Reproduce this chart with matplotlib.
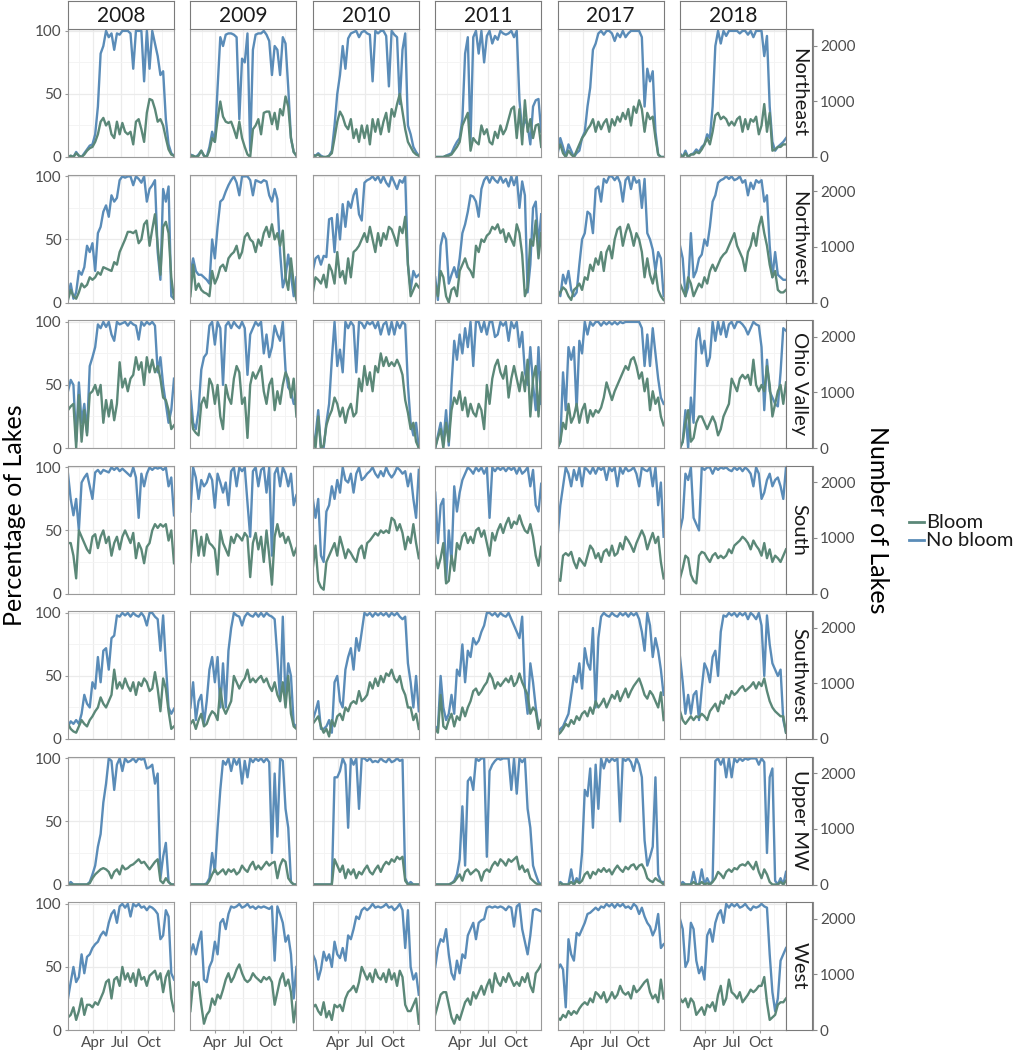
import matplotlib
matplotlib.use("Agg")
import matplotlib.pyplot as plt
from matplotlib.lines import Line2D

# sample dates (day of year), 40 per season
days = list(range(8, 360, 9))
years = [2008, 2009, 2010, 2011, 2017, 2018]
regions = ["Northeast", "Northwest", "Ohio Valley", "South", "Southwest", "Upper MW", "West"]
month_ticks = [91, 182, 274]
month_labels = ["Apr", "Jul", "Oct"]
minor_month_ticks = [46, 136, 228, 320]

# percentage of lakes, one list per year (2008, 2009, 2010, 2011, 2017, 2018)
northeast_nobloom = [
    [0,1,0,4,1,0,3,6,9,10, 18,40,82,88,100,95,98,85,98,97, 100,100,100,98,70,100,100,100,60,100, 70,100,90,80,65,68,30,10,3,1],
    [2,1,0,2,5,1,0,8,20,12, 55,95,88,97,98,98,97,95,30,78, 75,98,5,85,97,98,98,100,97,92, 65,88,85,65,95,90,55,15,4,1],
    [2,1,3,1,0,0,1,5,25,50, 65,88,70,94,98,99,100,95,99,100, 98,97,60,100,98,100,100,96,56,100, 97,95,42,85,98,25,18,8,4,1],
    [0,0,0,0,1,2,3,8,12,15, 30,82,95,12,95,100,82,100,75,96, 100,90,96,93,100,98,97,98,100,95, 100,45,20,30,25,10,40,45,46,20],
    [2,15,8,0,10,5,0,3,5,15, 20,40,55,85,90,98,100,97,100,100, 98,92,98,95,100,95,98,100,100,100, 100,95,40,70,60,68,20,2,0,0],
    [3,0,5,0,2,3,6,4,8,10, 18,15,40,88,100,90,100,96,100,100, 100,100,98,100,100,97,100,95,100,100, 100,80,96,40,12,5,8,10,12,15],
]
northeast_bloom = [
    [0,1,0,3,1,0,2,5,7,8, 12,18,28,31,25,28,18,15,28,18, 27,20,18,20,10,28,30,22,12,35, 46,45,38,28,30,25,15,6,2,1],
    [1,1,0,1,5,1,0,5,15,12, 30,44,32,28,27,28,22,15,28,15, 8,2,0,22,25,30,18,35,36,36, 26,35,22,38,33,48,40,15,4,1],
    [1,1,2,0,0,0,1,3,15,28, 36,32,25,22,30,15,22,12,25,15, 25,10,30,20,30,18,28,35,20,38, 32,42,50,36,22,12,8,4,2,1],
    [0,0,0,0,1,1,2,5,8,12, 25,30,35,5,15,12,10,25,18,22, 12,10,20,15,25,18,22,30,38,40, 15,38,10,45,20,30,15,25,26,8],
    [5,10,3,0,5,2,0,5,10,15, 18,22,25,30,20,28,22,27,30,20, 30,25,32,28,35,30,38,25,40,35, 45,38,20,35,30,32,15,2,0,0],
    [2,0,3,0,2,2,4,3,6,10, 15,10,20,33,35,30,32,30,25,28, 25,30,32,20,30,22,30,28,32,18, 25,42,20,35,5,6,8,8,10,10],
]
northwest_nobloom = [
    [5,15,3,8,25,22,28,45,40,47, 25,55,60,72,77,68,85,80,83,97, 100,99,100,100,93,100,98,95,100,80, 90,93,97,40,18,90,80,92,5,3],
    [22,35,25,22,22,20,18,15,50,35, 60,80,82,88,93,97,100,95,85,100, 100,100,97,85,97,96,95,97,96,85, 80,90,82,40,12,20,38,22,5,20],
    [25,35,37,30,37,36,66,67,40,70, 50,78,60,80,75,85,90,70,65,95, 97,98,100,97,100,95,100,95,92,100, 95,90,97,95,100,30,10,25,20,22],
    [20,2,45,55,50,15,22,28,20,35, 55,62,72,85,84,80,68,90,97,100, 95,100,97,95,100,95,98,92,100,93, 100,75,96,85,8,30,75,80,45,70],
    [10,5,22,15,25,10,5,8,30,50, 55,72,70,55,90,92,80,98,95,100, 100,97,100,95,80,97,100,90,100,95, 97,75,98,55,50,42,25,40,35,5],
    [45,35,5,12,55,20,25,35,38,50, 45,60,80,85,95,97,98,100,98,100, 97,98,100,95,97,85,95,90,97,95, 97,80,85,45,20,40,22,20,18,18],
]
northwest_bloom = [
    [2,10,5,3,8,15,12,14,20,18, 20,24,22,28,27,26,25,32,30,40, 45,50,56,56,55,57,47,50,62,65, 45,58,70,45,22,60,64,55,20,3],
    [5,30,10,15,10,8,7,5,25,15, 20,28,30,25,35,38,40,45,35,40, 52,55,50,48,40,50,45,55,60,52, 62,50,55,45,57,20,10,35,15,2],
    [8,20,18,15,22,12,30,25,15,40, 20,25,15,35,20,40,42,45,50,55, 48,60,50,40,55,45,55,50,60,58, 52,45,60,55,68,30,5,10,15,12],
    [15,5,25,20,5,0,10,12,5,25, 30,35,28,25,20,45,40,50,48,53, 55,60,58,62,55,58,48,55,50,45, 62,55,38,5,12,50,45,65,35,55],
    [5,8,12,10,5,2,10,12,15,10, 20,18,30,25,35,30,40,25,40,45, 35,50,58,60,45,55,62,55,45,55, 50,40,20,35,22,15,25,10,5,2],
    [15,10,5,20,15,5,10,15,12,20, 15,25,30,25,30,35,38,40,45,50, 55,45,40,35,25,40,45,55,45,60, 68,55,45,30,20,25,10,8,8,10],
]
ohio_nobloom = [
    [45,54,50,5,52,20,35,12,65,72, 80,98,95,100,96,100,90,85,100,98, 99,100,97,100,98,97,86,100,97,100, 98,100,97,60,72,50,35,20,30,55],
    [45,20,15,30,62,72,75,97,100,82, 100,95,50,97,100,95,100,97,95,100, 95,58,90,95,100,97,100,75,90,72, 80,97,90,85,100,62,48,45,35,35],
    [0,10,30,0,0,20,35,70,100,65, 78,60,100,95,100,97,60,100,99,95, 100,98,100,95,100,90,98,100,90,100, 90,100,95,100,98,50,20,10,20,0],
    [0,10,20,5,30,2,50,85,70,90, 75,95,80,100,65,100,100,92,100,90, 100,100,88,90,100,97,100,85,100,95, 100,80,92,60,50,80,50,30,80,35],
    [0,5,60,30,80,70,80,30,85,75, 100,90,100,97,100,100,97,100,98,100, 98,100,98,100,99,100,100,100,100,100, 100,95,65,90,65,95,75,55,40,35],
    [0,5,30,0,40,20,85,95,75,85, 65,72,100,85,100,90,100,88,98,100, 95,100,100,98,95,90,95,100,98,97, 80,30,70,45,40,35,33,60,95,93],
]
ohio_bloom = [
    [30,33,35,0,42,5,30,10,43,45, 50,42,50,20,38,25,38,22,35,68, 48,55,45,55,58,72,62,68,50,72, 60,70,60,65,55,40,38,30,15,18],
    [30,15,12,10,35,40,32,55,50,35, 50,25,15,50,40,35,55,65,60,35, 40,8,50,60,55,60,65,45,35,50, 55,30,45,35,50,60,55,40,55,25],
    [12,0,25,0,2,18,25,30,40,35, 25,32,20,30,35,25,28,55,45,65, 50,60,45,65,60,75,65,72,65,68, 65,70,65,58,38,28,15,20,5,0],
    [0,8,15,0,20,5,30,40,35,45, 30,40,25,35,28,25,35,30,15,50, 35,55,65,70,60,55,65,40,55,65, 55,45,60,45,70,25,55,65,25,60],
    [0,5,20,15,35,20,25,35,20,30, 35,20,30,25,30,28,32,40,52,45, 38,45,50,55,60,65,62,70,72,65, 55,60,45,55,30,45,35,40,25,18],
    [0,5,20,30,5,8,20,25,25,20, 15,20,25,20,10,15,25,30,35,55, 50,45,55,58,55,58,50,70,50,45, 50,45,65,50,25,35,45,50,35,52],
]
south_nobloom = [
    [95,75,62,75,50,88,92,95,85,75, 96,98,95,98,97,96,100,98,100,97, 99,97,95,93,100,92,60,95,85,95, 100,98,100,99,100,98,100,85,92,62],
    [65,100,92,75,90,85,88,95,90,68, 95,88,80,88,70,97,100,85,100,97, 100,72,45,97,100,85,98,100,80,100, 30,95,100,85,100,95,85,95,70,78],
    [75,60,75,30,25,65,70,85,75,90, 80,100,90,88,95,80,95,100,90,92, 95,97,100,95,92,97,93,100,95,92, 95,100,98,95,97,85,95,75,60,98],
    [80,40,70,75,10,50,25,85,65,80, 90,95,100,98,95,100,97,100,95,100, 60,100,97,100,98,100,97,100,98,100, 95,100,95,97,100,85,98,70,65,87],
    [45,70,85,100,95,85,98,90,100,85, 100,98,95,100,95,100,98,100,90,100, 97,100,85,100,95,100,97,98,100,95, 85,100,98,97,100,85,100,70,88,45],
    [50,60,95,90,100,60,55,50,100,98, 100,100,95,100,98,100,99,100,98,97, 100,98,100,97,100,98,95,85,100,95, 75,80,90,95,85,90,92,85,75,100],
]
south_bloom = [
    [40,40,30,12,50,45,40,35,32,45, 47,36,45,50,40,45,30,40,45,35, 45,50,45,40,48,28,40,35,24,37, 40,50,55,52,55,53,55,42,50,24],
    [25,50,50,30,45,30,47,40,38,35, 15,50,40,35,30,45,40,47,45,42, 48,45,13,40,48,35,45,25,50,30, 7,45,55,45,48,40,45,38,30,36],
    [20,38,10,5,3,25,30,35,40,30, 45,37,28,35,32,28,25,35,38,28, 40,42,45,48,46,50,48,50,48,60, 58,50,55,48,35,45,40,55,40,28],
    [30,20,28,40,8,10,30,18,40,35, 45,48,40,45,40,50,52,45,50,40, 30,48,42,50,55,48,55,60,52,57, 55,62,55,50,48,55,45,30,22,37],
    [12,10,30,32,30,33,25,20,28,25, 22,30,38,35,28,32,25,33,35,30, 38,30,32,40,35,45,42,38,33,40, 45,50,45,35,42,48,40,45,25,12],
    [12,20,30,28,15,10,8,30,33,32, 28,25,30,32,28,30,28,30,35,32, 38,40,42,45,43,40,35,42,38,35, 30,40,28,35,25,30,28,25,30,35],
]
southwest_nobloom = [
    [10,14,12,15,12,20,35,28,25,45, 40,65,45,70,72,55,80,82,98,97, 100,98,100,97,100,98,97,100,97,90, 100,100,97,95,70,98,60,25,20,24],
    [25,45,15,30,35,12,30,55,65,45, 65,25,60,25,70,88,100,98,97,90, 97,100,98,97,100,97,100,97,100,98, 97,95,65,30,97,30,60,50,12,10],
    [15,22,30,8,8,10,15,5,45,50, 30,25,55,65,72,55,80,70,85,100, 98,100,97,100,98,100,98,100,97,100, 98,100,97,95,97,60,45,25,50,22],
    [10,8,50,25,15,20,35,20,55,50, 75,45,70,65,80,75,78,85,90,100, 100,98,100,97,100,98,97,100,95,90, 85,80,97,40,20,60,45,25,10,12],
    [5,8,10,15,20,35,50,45,60,40, 72,60,55,88,25,80,97,100,98,97, 100,98,97,100,98,100,97,100,98,100, 95,85,70,100,90,65,80,70,55,35],
    [65,45,20,35,20,35,38,15,40,60, 55,45,65,70,50,85,98,97,100,98, 100,97,100,98,100,95,100,98,95,100, 90,50,98,75,60,55,50,55,15,5],
]
southwest_bloom = [
    [12,8,6,5,10,15,12,10,15,18, 22,25,33,28,25,30,35,55,40,45, 40,48,42,38,45,35,45,42,48,45, 38,40,53,40,22,48,40,22,8,10],
    [12,15,8,15,20,10,12,18,22,20, 15,40,25,20,25,30,50,45,40,45, 48,55,45,48,45,48,50,45,48,42, 38,45,35,30,45,25,50,20,10,8],
    [12,15,18,10,5,8,2,15,10,18, 20,15,25,22,28,30,28,38,30,32, 35,45,40,48,42,50,45,52,50,55, 48,45,50,40,35,25,25,15,20,8],
    [8,5,35,10,8,15,20,10,18,15, 25,18,25,30,38,40,35,38,42,45, 52,48,40,45,42,45,48,45,50,42, 45,52,45,40,35,20,25,22,8,15],
    [3,5,8,12,10,15,12,18,15,20, 22,18,25,20,30,25,28,32,25,30, 35,32,38,30,35,40,33,38,42,45, 48,42,35,32,38,35,30,25,37,15],
    [22,15,12,15,18,15,18,17,20,18, 15,22,25,28,22,30,28,35,32,38, 35,37,40,42,38,40,42,45,40,45, 42,48,38,30,25,22,20,18,18,5],
]
uppermw_nobloom = [
    [0,2,0,0,0,0,0,0,2,8, 15,30,40,65,80,100,98,75,95,100, 90,100,97,98,100,97,100,99,100,92, 93,95,80,88,5,22,33,2,0,0],
    [0,0,0,0,0,0,1,5,25,10, 45,75,98,95,100,90,100,95,100,80, 98,85,100,97,100,98,100,97,100,97, 25,88,38,100,98,60,45,2,0,0],
    [0,0,0,0,0,0,0,0,85,85, 90,100,95,45,100,95,100,60,100,100, 98,100,97,98,97,100,98,97,100,97, 98,100,98,99,5,0,2,0,0,0],
    [0,0,0,0,0,0,1,3,8,20, 62,15,82,85,75,100,98,100,100,22, 90,95,98,100,99,100,100,100,75,100, 72,100,97,100,60,45,15,8,2,0],
    [0,2,0,0,0,12,0,5,2,25, 75,70,92,45,95,60,100,92,100,97, 100,98,100,50,100,98,100,97,90,100, 95,85,35,15,22,30,85,8,2,2],
    [0,2,0,0,0,10,0,0,12,0, 5,0,3,98,100,95,100,85,100,85, 100,97,100,98,100,99,100,100,100,95, 100,97,25,85,92,3,0,5,0,10],
]
uppermw_bloom = [
    [0,0,0,0,0,0,0,0,1,5, 8,10,12,13,12,10,5,10,12,8, 15,12,13,15,16,18,20,17,18,15, 12,15,18,20,3,1,5,2,0,0],
    [0,0,0,0,0,0,0,3,8,12, 8,10,12,8,12,10,12,8,10,15, 12,10,15,18,12,15,12,15,18,15, 17,18,5,15,20,18,5,2,0,0],
    [0,0,0,0,0,0,0,0,20,15, 10,15,5,12,8,12,5,10,8,12, 15,10,8,12,15,10,15,18,16,20, 18,22,20,22,3,0,0,0,0,0],
    [0,0,0,0,0,0,1,2,5,8, 3,10,12,8,10,12,10,3,10,12, 10,15,18,15,20,18,15,20,18,20, 22,12,15,10,12,5,3,1,0,0],
    [0,1,0,0,0,2,0,3,1,3, 8,10,5,10,8,12,10,13,10,12, 8,12,15,12,10,14,12,15,16,12, 15,16,12,5,3,2,5,3,2,0],
    [0,0,0,0,0,2,0,0,2,0, 1,0,2,5,10,8,5,10,12,10, 13,12,15,16,15,18,15,12,18,10, 5,12,8,2,0,0,0,2,0,3],
]
west_nobloom = [
    [25,38,50,38,42,60,45,58,60,65, 68,70,75,78,75,85,92,95,85,98, 100,97,100,90,100,98,100,97,98,95, 98,97,95,92,72,75,95,90,45,40],
    [60,68,60,70,78,40,38,50,55,70, 60,85,88,80,92,98,97,98,100,97, 98,100,97,98,96,98,97,98,97,96, 98,55,98,92,85,70,75,60,25,50],
    [60,55,40,48,62,55,60,50,70,60, 57,65,55,75,72,80,90,88,95,97, 95,97,100,97,98,97,98,100,97,98, 95,97,100,95,65,95,50,40,45,28],
    [50,65,72,70,80,60,45,40,55,45, 60,57,75,80,85,72,85,87,88,97, 98,97,98,97,98,97,95,98,97,82, 98,100,80,70,60,75,95,96,95,94],
    [48,52,48,18,72,60,55,77,75,80, 85,92,93,95,97,95,98,97,100,98, 100,97,100,98,100,97,98,96,100,98, 92,97,90,85,82,75,80,92,65,68],
    [88,80,50,55,85,80,55,45,50,40, 75,80,70,85,92,95,85,100,97,100, 98,100,97,98,100,97,95,98,97,98, 100,98,97,60,30,15,25,55,60,65],
]
west_bloom = [
    [10,12,18,8,15,25,12,20,20,18, 22,20,25,30,38,40,25,40,42,35, 50,40,45,38,45,35,48,40,42,35, 43,45,47,40,45,30,42,47,25,15],
    [15,38,35,38,20,5,12,15,25,20, 28,25,32,40,45,38,42,48,52,45, 40,38,40,45,42,40,38,42,40,42, 38,20,30,40,45,35,40,30,6,22],
    [18,20,15,12,22,10,15,8,20,18, 20,15,25,30,32,35,30,38,50,45, 40,45,38,48,42,40,45,38,48,40, 45,35,47,42,20,15,15,20,25,5],
    [12,20,28,30,30,20,10,5,12,8, 15,22,25,20,30,25,30,35,28,35, 40,30,45,38,35,42,38,45,40,35, 38,35,42,38,45,35,30,45,48,52],
    [10,8,12,10,15,12,15,13,17,20, 22,20,25,22,30,28,25,30,22,25, 30,25,28,35,30,28,30,25,35,30, 32,35,38,40,30,25,28,22,40,25],
    [25,22,25,18,25,22,12,15,18,12, 20,18,22,15,28,35,20,25,40,30, 28,25,30,22,25,28,32,30,32,35, 35,42,22,8,10,12,20,22,22,25],
]

nobloom = [northeast_nobloom, northwest_nobloom, ohio_nobloom, south_nobloom,
           southwest_nobloom, uppermw_nobloom, west_nobloom]
bloom = [northeast_bloom, northwest_bloom, ohio_bloom, south_bloom,
         southwest_bloom, uppermw_bloom, west_bloom]

BLUE = "#5a8cb8"
GREEN = "#5b8878"
GRAY_TXT = "#4d4d4d"

plt.rcParams["font.family"] = ["Lato", "DejaVu Sans"]

W, H = 1013, 1050


def px(x0, y0, w, h):
    # pixel box (from top-left) -> figure fraction
    return [x0 / W, 1 - (y0 + h) / H, w / W, h / H]


fig = plt.figure(figsize=(W / 100, H / 100), dpi=100)

PW, PH = 106, 128
for r, region in enumerate(regions):
    top = 29 + 145.5 * r
    for c, year in enumerate(years):
        left = 68 + 122.4 * c
        ax = fig.add_axes(px(left, top, PW, PH))
        ax.plot(days, nobloom[r][c], color=BLUE, lw=1.7, solid_joinstyle="round")
        ax.plot(days, bloom[r][c], color=GREEN, lw=1.7, solid_joinstyle="round")
        ax.set_xlim(days[0], days[-1])
        ax.set_ylim(0, 101.5)
        ax.set_yticks([0, 50, 100])
        ax.set_yticks([25, 75], minor=True)
        ax.set_xticks(month_ticks)
        ax.set_xticks(minor_month_ticks, minor=True)
        ax.grid(which="major", color="#ebebeb", lw=0.9)
        ax.grid(which="minor", color="#f3f3f3", lw=0.6)
        ax.set_axisbelow(True)
        for sp in ax.spines.values():
            sp.set_color("#9a9a9a")
            sp.set_linewidth(0.8)
        ax.tick_params(which="minor", length=0)
        ax.tick_params(which="major", length=2.5, color="#9a9a9a", labelcolor=GRAY_TXT,
                       labelsize=11, pad=2)
        if c == 0:
            ax.set_yticklabels(["0", "50", "100"])
        else:
            ax.tick_params(axis="y", labelleft=False, length=0)
        if r == len(regions) - 1:
            ax.set_xticklabels(month_labels)
        else:
            ax.tick_params(axis="x", labelbottom=False, length=0)

        if r == 0:
            sax = fig.add_axes(px(left, 1, PW, 28))
            sax.set_xticks([])
            sax.set_yticks([])
            for sp in sax.spines.values():
                sp.set_color("#7a7a7a")
                sp.set_linewidth(0.8)
            sax.text(0.5, 0.45, str(year), ha="center", va="center", fontsize=15,
                     color="#1a1a1a", transform=sax.transAxes)

    # region strip on the right
    rs = fig.add_axes(px(786, top, 26, PH))
    rs.set_xticks([])
    rs.set_yticks([])
    for sp in rs.spines.values():
        sp.set_color("#7a7a7a")
        sp.set_linewidth(0.8)
    rs.text(0.5, 0.5, region, rotation=-90, ha="center", va="center", fontsize=14.5,
            color="#1a1a1a", transform=rs.transAxes)

    # secondary axis: number of lakes
    rax = fig.add_axes(px(812, top, 1, PH))
    rax.patch.set_visible(False)
    for name in ["left", "top", "bottom"]:
        rax.spines[name].set_visible(False)
    rax.spines["right"].set_color("#8a8a8a")
    rax.set_xticks([])
    rax.set_ylim(0, 2300)
    rax.yaxis.tick_right()
    rax.set_yticks([0, 1000, 2000])
    rax.tick_params(axis="y", length=3, color="#8a8a8a", labelcolor=GRAY_TXT,
                    labelsize=11, pad=2)

fig.text(15 / W, 1 - 515 / H, "Percentage of Lakes", rotation=90, ha="center",
         va="center", fontsize=18)
fig.text(877 / W, 1 - 520 / H, "Number of Lakes", rotation=-90, ha="center",
         va="center", fontsize=18)

# legend drawn by hand so it sits right against the figure edge
legend_items = [("Bloom", GREEN, 522), ("No bloom", BLUE, 540)]
for label, color, y in legend_items:
    fig.add_artist(Line2D([909 / W, 924 / W], [1 - y / H, 1 - y / H], color=color, lw=2))
    fig.text(926 / W, 1 - y / H, label, ha="left", va="center", fontsize=14.5,
             color="#1a1a1a")

fig.savefig("out.png", dpi=100)
